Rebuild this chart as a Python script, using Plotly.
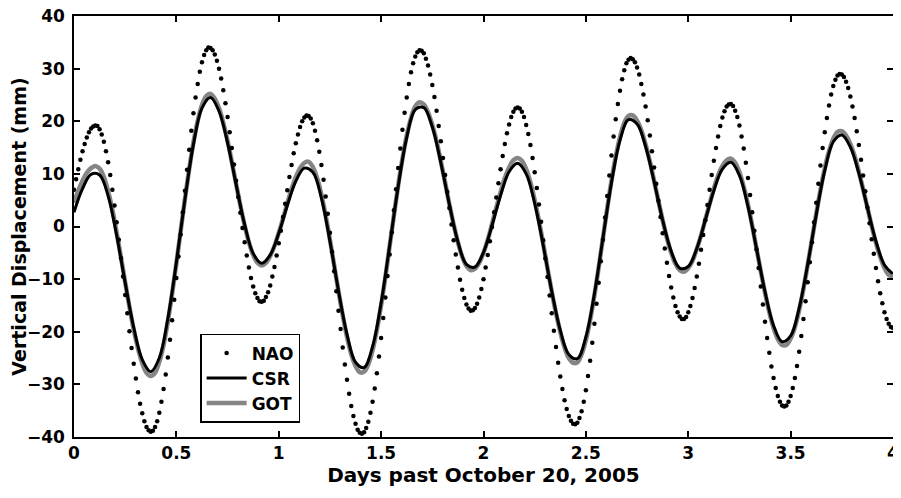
import numpy as np
import plotly.graph_objects as go

# NAO model, sampled every 15 minutes (0 .. 4 days), mm
nao_mm = [
    7.0, 9.0, 10.9, 12.7, 14.3, 15.7, 16.9, 17.9,
    18.6, 19.0, 19.2, 19.1, 18.5, 17.5, 16.1, 14.3,
    12.2, 9.8, 7.0, 4.0, 0.8, -2.5, -6.0, -9.5,
    -13.0, -16.5, -19.9, -23.1, -26.1, -28.9, -31.5, -33.7,
    -35.5, -37.0, -38.1, -38.7, -39.0, -38.8, -38.1, -37.0,
    -35.4, -33.3, -30.9, -28.1, -24.9, -21.5, -17.8, -13.9,
    -9.8, -5.7, -1.5, 2.7, 6.8, 10.8, 14.6, 18.2,
    21.5, 24.5, 27.1, 29.4, 31.2, 32.6, 33.5, 34.0,
    33.9, 33.5, 32.7, 31.5, 30.0, 28.1, 25.9, 23.4,
    20.8, 17.9, 14.9, 11.8, 8.7, 5.6, 2.6, -0.3,
    -3.0, -5.5, -7.8, -9.8, -11.4, -12.7, -13.6, -14.2,
    -14.3, -14.1, -13.4, -12.5, -11.2, -9.5, -7.7, -5.5,
    -3.2, -0.8, 1.8, 4.3, 6.9, 9.4, 11.7, 13.9,
    15.8, 17.5, 18.9, 20.0, 20.7, 21.1, 21.0, 20.5,
    19.6, 18.2, 16.4, 14.2, 11.7, 8.9, 5.7, 2.4,
    -1.2, -4.8, -8.5, -12.3, -16.0, -19.5, -23.0, -26.2,
    -29.1, -31.8, -34.1, -36.0, -37.5, -38.6, -39.2, -39.4,
    -39.1, -38.3, -37.1, -35.4, -33.3, -30.8, -27.9, -24.7,
    -21.2, -17.4, -13.5, -9.4, -5.3, -1.1, 3.1, 7.1,
    11.1, 14.8, 18.4, 21.6, 24.5, 27.1, 29.3, 31.0,
    32.3, 33.1, 33.5, 33.4, 32.9, 31.9, 30.6, 28.9,
    26.9, 24.6, 22.0, 19.1, 16.2, 13.0, 9.8, 6.6,
    3.5, 0.4, -2.6, -5.3, -7.8, -10.1, -12.0, -13.6,
    -14.8, -15.6, -16.0, -15.9, -15.5, -14.7, -13.5, -11.9,
    -10.0, -7.8, -5.4, -2.8, -0.1, 2.7, 5.5, 8.2,
    10.9, 13.4, 15.7, 17.7, 19.4, 20.8, 21.8, 22.4,
    22.6, 22.4, 21.8, 20.8, 19.3, 17.6, 15.5, 13.0,
    10.3, 7.3, 4.2, 0.9, -2.6, -6.1, -9.6, -13.1,
    -16.5, -19.8, -22.9, -25.9, -28.5, -30.9, -33.0, -34.7,
    -36.0, -36.9, -37.5, -37.6, -37.3, -36.4, -35.1, -33.3,
    -31.1, -28.4, -25.5, -22.1, -18.5, -14.7, -10.7, -6.6,
    -2.5, 1.7, 5.8, 9.7, 13.5, 17.1, 20.4, 23.3,
    25.8, 28.0, 29.7, 31.0, 31.7, 32.0, 31.8, 31.2,
    30.2, 28.9, 27.1, 25.1, 22.8, 20.2, 17.3, 14.3,
    11.2, 8.1, 4.9, 1.8, -1.3, -4.2, -6.9, -9.4,
    -11.6, -13.5, -15.1, -16.3, -17.1, -17.6, -17.6, -17.2,
    -16.3, -15.1, -13.6, -11.7, -9.5, -7.1, -4.4, -1.6,
    1.2, 4.1, 7.0, 9.8, 12.5, 14.9, 17.1, 19.1,
    20.7, 21.9, 22.8, 23.2, 23.3, 22.9, 22.0, 20.8,
    19.2, 17.1, 14.8, 12.1, 9.2, 6.0, 2.7, -0.8,
    -4.3, -7.9, -11.4, -14.8, -18.1, -21.2, -24.0, -26.6,
    -28.8, -30.7, -32.2, -33.3, -34.0, -34.2, -34.0, -33.3,
    -32.2, -30.7, -28.8, -26.5, -23.8, -20.8, -17.6, -14.2,
    -10.6, -6.8, -3.0, 0.8, 4.5, 8.1, 11.6, 14.9,
    17.9, 20.6, 23.0, 25.1, 26.7, 27.9, 28.7, 29.0,
    28.9, 28.4, 27.5, 26.3, 24.7, 22.8, 20.6, 18.1,
    15.5, 12.7, 9.7, 6.7, 3.6, 0.6, -2.4, -5.2,
    -7.9, -10.4, -12.7, -14.6, -16.3, -17.6, -18.5, -19.1,
    -19.3,
]

# GOT model, sampled every 30 minutes, mm
got_mm = [
    4.5, 6.8, 8.7, 10.2, 11.1, 11.5, 11.0, 9.4, 6.7, 3.2, -1.1, -5.8,
    -10.6, -15.3, -19.6, -23.2, -26.0, -27.8, -28.4, -27.8, -25.7, -22.5, -18.1, -12.8,
    -7.0, -0.9, 5.2, 10.9, 16.0, 20.1, 23.1, 24.8, 25.2, 24.3, 22.5, 19.7,
    16.3, 12.3, 8.1, 4.0, 0.2, -3.0, -5.4, -6.9, -7.4, -6.9, -5.6, -3.7,
    -1.2, 1.5, 4.4, 7.1, 9.4, 11.1, 12.1, 12.3, 11.3, 9.2, 6.1, 2.1,
    -2.5, -7.4, -12.3, -16.9, -21.0, -24.3, -26.5, -27.7, -27.6, -26.2, -23.5, -19.7,
    -15.0, -9.6, -3.7, 2.1, 7.8, 12.9, 17.3, 20.6, 22.8, 23.6, 23.2, 21.7,
    19.3, 16.2, 12.4, 8.4, 4.2, 0.4, -3.0, -5.7, -7.5, -8.3, -8.0, -6.9,
    -5.0, -2.5, 0.5, 3.6, 6.5, 9.2, 11.2, 12.6, 13.0, 12.5, 10.9, 8.4,
    5.0, 1.1, -3.3, -7.9, -12.4, -16.5, -20.1, -23.0, -25.0, -25.9, -25.8, -24.3,
    -21.6, -17.8, -13.1, -7.8, -2.2, 3.4, 8.7, 13.3, 17.0, 19.7, 21.0, 21.1,
    20.1, 18.3, 15.6, 12.4, 8.7, 4.9, 1.2, -2.2, -5.0, -7.1, -8.3, -8.6,
    -7.9, -6.5, -4.3, -1.7, 1.3, 4.3, 7.2, 9.7, 11.5, 12.6, 12.9, 12.1,
    10.3, 7.6, 4.2, 0.2, -4.2, -8.5, -12.6, -16.3, -19.3, -21.4, -22.5, -22.5,
    -21.3, -19.1, -15.9, -11.9, -7.3, -2.5, 2.4, 7.0, 11.0, 14.3, 16.7, 18.0,
    18.1, 17.3, 15.7, 13.4, 10.4, 7.1, 3.6, 0.1, -3.1, -5.8, -7.9, -9.2,
    -9.6,
]

# CSR model, sampled every hour, mm
csr_mm = [
    2.7, 7.2, 9.9, 9.8, 5.8, -1.7, -10.7, -19.2, -25.3, -27.6, -25.0, -17.5,
    -6.8, 5.1, 15.6, 22.5, 24.5, 21.9, 15.9, 8.0, 0.4, -5.1, -7.0, -5.4,
    -1.3, 4.0, 8.6, 11.1, 10.3, 5.4, -2.8, -12.2, -20.5, -25.8, -26.8, -22.8,
    -14.5, -3.6, 7.6, 16.9, 22.2, 22.6, 18.9, 12.1, 4.2, -2.9, -7.2, -7.7,
    -4.9, 0.2, 5.9, 10.4, 12.0, 10.0, 4.4, -3.6, -12.3, -19.7, -24.3, -25.1,
    -21.0, -12.8, -2.2, 8.3, 16.4, 20.3, 19.5, 15.2, 8.5, 1.2, -4.7, -7.9,
    -7.6, -4.2, 1.2, 6.8, 10.9, 12.2, 9.7, 3.8, -4.2, -12.4, -18.8, -21.9,
    -20.8, -15.5, -7.2, 2.2, 10.6, 16.1, 17.4, 15.1, 10.1, 3.6, -2.8, -7.3,
    -9.0,
]

nao_step_days = 0.25 / 24
got_step_days = 0.5 / 24
csr_step_days = 1.0 / 24

nao_days = np.arange(len(nao_mm)) * nao_step_days
got_days = np.arange(len(got_mm)) * got_step_days
csr_days = np.arange(len(csr_mm)) * csr_step_days

x_ticks = [0, 0.5, 1, 1.5, 2, 2.5, 3, 3.5, 4]
x_tick_text = ["0", "0.5", "1", "1.5", "2", "2.5", "3", "3.5", "4"]
y_ticks = [-40, -30, -20, -10, 0, 10, 20, 30, 40]

FONT = "DejaVu Sans"

fig = go.Figure()

fig.add_trace(go.Scatter(
    x=got_days, y=got_mm, name="GOT", mode="lines",
    line=dict(color="#858585", width=4.5, shape="spline"),
    legendrank=3,
))
fig.add_trace(go.Scatter(
    x=csr_days, y=csr_mm, name="CSR", mode="lines",
    line=dict(color="black", width=3, shape="spline"),
    legendrank=2,
))
fig.add_trace(go.Scatter(
    x=nao_days, y=nao_mm, name="NAO", mode="markers",
    marker=dict(color="black", size=4.5, symbol="circle"),
    legendrank=1,
))

axis_common = dict(
    showgrid=False, zeroline=False, automargin=False,
    showline=True, linecolor="black", linewidth=1.5,
    mirror="ticks", ticks="inside", ticklen=6, tickwidth=1.5, tickcolor="black",
    ticklabeloverflow="allow",
    tickfont=dict(family=FONT, size=17, color="black", weight="bold"),
)

fig.update_xaxes(
    range=[0, 4], tickvals=x_ticks, ticktext=x_tick_text,
    title=dict(text="Days past October 20, 2005", standoff=4,
               font=dict(family=FONT, size=20, color="black", weight="bold")),
    **axis_common,
)
fig.update_yaxes(
    range=[-40, 40], tickvals=y_ticks, ticklabelstandoff=4,
    title=dict(text="Vertical Displacement (mm)", standoff=4,
               font=dict(family=FONT, size=19, color="black", weight="bold")),
    **axis_common,
)

# the page body adds an 8 px offset, so the figure is 8 px smaller than the window
fig.update_layout(
    width=893, height=490,
    margin=dict(l=66, r=8, t=8, b=61),
    paper_bgcolor="white", plot_bgcolor="white",
    showlegend=True,
    legend=dict(
        x=0.154, y=0.245, xanchor="left", yanchor="top",
        bgcolor="white", bordercolor="black", borderwidth=1.5,
        font=dict(family=FONT, size=17, color="black", weight="bold"),
        itemwidth=40,
    ),
)

fig.write_html("out.html", config={"displayModeBar": False})
